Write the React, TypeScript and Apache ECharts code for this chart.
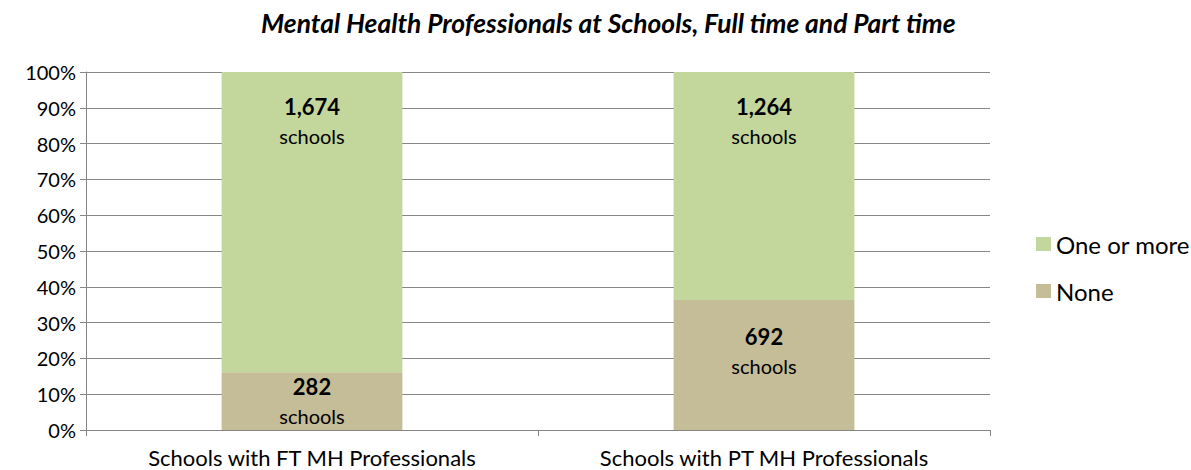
import React, { useEffect, useRef } from "react";
import * as echarts from "echarts";

const categories = ["Schools with FT MH Professionals", "Schools with PT MH Professionals"];
const seriesNames = ["None", "One or more"];
// shares (%)
const noneShare = [16.1, 36.3];
const oneOrMoreShare = [83.9, 63.7];
// counts shown in the labels
const noneCount = ["282", "692"];
const oneOrMoreCount = ["1,674", "1,264"];
const yTicks = [0, 10, 20, 30, 40, 50, 60, 70, 80, 90, 100];

const FONT = "Lato, 'Open Sans', sans-serif";

export default function App() {
  const ref = useRef<HTMLDivElement>(null);
  useEffect(() => {
    if (!ref.current) return;
    const chart = echarts.init(ref.current, undefined, { renderer: "svg" });
    const rich = {
      b: { fontFamily: FONT, fontSize: 22, fontWeight: "bold", color: "#000", lineHeight: 29 },
      n: { fontFamily: FONT, fontSize: 20, color: "#000", lineHeight: 29 },
    };
    chart.setOption({
      animation: false,
      title: {
        text: "Mental Health Professionals at Schools, Full time and Part time",
        left: 256,
        top: 5,
        textStyle: { fontFamily: FONT, fontSize: 26.4, fontWeight: "bold", fontStyle: "italic", color: "#000" },
      },
      legend: {
        orient: "vertical",
        left: 1031,
        top: 227,
        itemWidth: 15,
        itemHeight: 14,
        itemGap: 23,
        icon: "rect",
        data: ["One or more", "None"],
        textStyle: { fontFamily: FONT, fontSize: 24, color: "#000", lineHeight: 24 },
      },
      grid: { left: 86, right: 201, top: 72, bottom: 40, containLabel: false },
      xAxis: {
        type: "category",
        data: categories,
        axisLine: { lineStyle: { color: "#868686" } },
        axisTick: { show: true, alignWithLabel: false, length: 6, lineStyle: { color: "#868686" } },
        axisLabel: { fontFamily: FONT, fontSize: 22, color: "#000", margin: 16 },
      },
      yAxis: {
        type: "value",
        min: yTicks[0],
        max: yTicks[yTicks.length - 1],
        interval: 10,
        axisLine: { show: true, lineStyle: { color: "#868686" } },
        axisTick: { show: true, length: 6, lineStyle: { color: "#868686" } },
        axisLabel: { fontFamily: FONT, fontSize: 20, color: "#000", formatter: "{value}%", margin: 10 },
        splitLine: { lineStyle: { color: "#868686", width: 1 } },
      },
      series: [
        {
          name: seriesNames[0],
          type: "bar",
          stack: "s",
          barWidth: "40%",
          itemStyle: { color: "#C4BD97" },
          data: noneShare.map((v, i) => ({
            value: v,
            label: {
              show: true,
              position: "inside",
              offset: i === 1 ? [0, -14] : [0, 0],
              formatter: `{b|${noneCount[i]}}\n{n|schools}`,
              rich,
            },
          })),
        },
        {
          name: seriesNames[1],
          type: "bar",
          stack: "s",
          barWidth: "40%",
          itemStyle: { color: "#C3D69B" },
          data: oneOrMoreShare.map((v, i) => ({
            value: v,
            label: {
              show: true,
              position: "insideTop",
              distance: 20,
              formatter: `{b|${oneOrMoreCount[i]}}\n{n|schools}`,
              rich,
            },
          })),
        },
      ],
    });
    return () => chart.dispose();
  }, []);
  return (
    <div
      ref={ref}
      style={{ position: "fixed", left: 0, top: 0, width: 1191, height: 470, background: "#fff" }}
    />
  );
}
